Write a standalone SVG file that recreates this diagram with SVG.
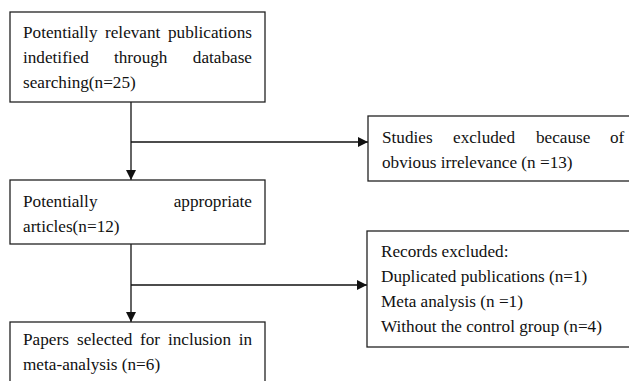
<svg xmlns="http://www.w3.org/2000/svg" width="629" height="381" viewBox="0 0 629 381">
<defs>
<marker id="ah" viewBox="0 0 10 10" refX="10" refY="5" markerWidth="10" markerHeight="10" markerUnits="userSpaceOnUse" orient="auto">
<path d="M0,0 L10,5 L0,10 z" fill="#111"/>
</marker>
</defs>
<style>
.box{fill:#fff;stroke:#222;stroke-width:1.3}
.t{font-family:'Liberation Serif','Times New Roman',serif;font-size:17.2px;fill:#111}
.e{text-anchor:end}
.c{fill:none;stroke:#111;stroke-width:1.3}
</style>
<rect width="629" height="381" fill="#fff"/>
<g id="connectors">
<line class="c" x1="131" y1="102" x2="131" y2="180" marker-end="url(#ah)"/>
<line class="c" x1="131" y1="142" x2="368" y2="142" marker-end="url(#ah)"/>
<line class="c" x1="131" y1="244" x2="131" y2="322" marker-end="url(#ah)"/>
<line class="c" x1="131" y1="285" x2="367" y2="285" marker-end="url(#ah)"/>
</g>
<g id="n1">
<rect class="box" x="10" y="12" width="255" height="90"/>
<text class="t" y="38"><tspan x="23">Potentially</tspan><tspan x="105">relevant</tspan></text>
<text class="t e" x="252" y="38">publications</text>
<text class="t" y="63"><tspan x="23">indetified</tspan><tspan x="114">through</tspan></text>
<text class="t e" x="252" y="63">database</text>
<text class="t" x="23" y="88">searching(n=25)</text>
</g>
<g id="n2">
<rect class="box" x="368" y="116" width="280" height="65"/>
<text class="t" y="143"><tspan x="382">Studies</tspan><tspan x="453">excluded</tspan><tspan x="536">because</tspan><tspan x="610">of</tspan></text>
<text class="t" x="382" y="168">obvious irrelevance (n =13)</text>
</g>
<g id="n3">
<rect class="box" x="10" y="180" width="255" height="64"/>
<text class="t" x="23" y="207">Potentially</text>
<text class="t e" x="252" y="207">appropriate</text>
<text class="t" x="23" y="232">articles(n=12)</text>
</g>
<g id="n4">
<rect class="box" x="367" y="231" width="280" height="116"/>
<text class="t" x="381" y="257">Records excluded:</text>
<text class="t" x="381" y="282">Duplicated publications (n=1)</text>
<text class="t" x="381" y="307">Meta analysis (n =1)</text>
<text class="t" x="381" y="332">Without the control group (n=4)</text>
</g>
<g id="n5">
<rect class="box" x="10" y="322" width="255" height="80"/>
<text class="t" y="345"><tspan x="23">Papers</tspan><tspan x="77">selected</tspan><tspan x="140">for</tspan><tspan x="168">inclusion</tspan></text>
<text class="t e" x="252" y="345">in</text>
<text class="t" x="23" y="370">meta-analysis (n=6)</text>
</g>
</svg>
